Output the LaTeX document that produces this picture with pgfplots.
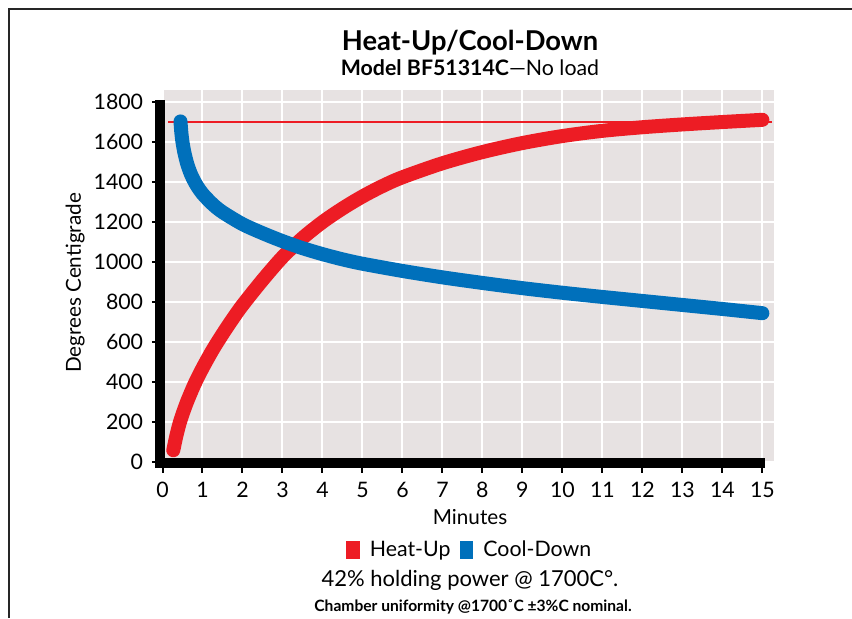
\documentclass[border=0pt]{standalone}
\usepackage{pgfplots}
\pgfplotsset{compat=1.18}
\usepackage{fontspec}
\setmainfont{Lato}
\definecolor{heatred}{HTML}{ED1C24}
\definecolor{coolblue}{HTML}{0070BB}
\definecolor{bggray}{HTML}{E7E2E2}
\begin{document}
\begin{tikzpicture}
\path[use as bounding box] (0,0) rectangle (639pt,-463.5pt);
\draw[line width=1.5pt, color=black!85] (6.75pt,-463.5pt) -- (6.75pt,-6.75pt) -- (639pt,-6.75pt);
\node[font=\fontsize{20.5}{24}\selectfont\bfseries] at (352.5pt,-32.25pt) {Heat-Up/Cool-Down};
\node[font=\fontsize{16}{19}\selectfont] at (352.5pt,-50.5pt) {\textbf{Model BF51314C}—No load};
\node[font=\fontsize{16.5}{19}\selectfont] at (352.5pt,-435pt) {42\% holding power @ 1700C°.};
\node[font=\fontsize{11.7}{14}\selectfont\bfseries] at (354.75pt,-455.25pt) {Chamber uniformity @1700˚C ±3\%C nominal.};
\begin{axis}[
  at={(121.875pt,-346.7pt)}, anchor=south west,
  scale only axis, width=458.6pt, height=279.2pt,
  xmin=0, xmax=15.29, ymin=0, ymax=1860,
  clip=false,
  axis line style={draw=none},
  axis background/.style={fill=bggray},
  grid=major, major grid style={white, line width=1.5pt},
  xtick={0,1,...,15}, ytick={0,200,...,1800},
  xtick pos=bottom, ytick pos=left,
  tick style={black, line width=1.5pt},
  tick align=outside, major tick length=8pt,
  /pgf/number format/1000 sep={},
  /pgf/number format/assume math mode=true,
  ticklabel style={font=\fontsize{16}{19}\selectfont},
  xticklabel style={yshift=-3.5pt},
  yticklabel style={xshift=-3pt},
  xlabel={Minutes}, ylabel={Degrees Centigrade},
  label style={font=\fontsize{15.5}{18}\selectfont},
  xlabel style={at={(rel axis cs:0.503,-0.147)}, anchor=center},
  ylabel style={at={(rel axis cs:-0.143,0.4816)}, anchor=center},
  legend style={at={(rel axis cs:0.503,-0.2356)}, anchor=center, draw=none, fill=none,
    legend columns=2, font=\fontsize{16}{19}\selectfont,
    /tikz/every even column/.append style={column sep=5pt}},
  legend image code/.code={\fill[draw=none] (0pt,-6.4pt) rectangle (10pt,6.4pt); \path (10.5pt,0pt);},
]
\draw[line width=7.5pt, line join=miter, black] (axis cs:-0.06,1810) -- (axis cs:-0.06,-4) -- (axis cs:15.06,-4);
\addplot[heatred, line width=1.2pt, forget plot] coordinates {(0.15,1700) (15.23,1700)};
\addplot[heatred, line width=10.5pt, line cap=round, line join=round, smooth, tension=0.5] coordinates {
(0.27,60) (0.35,135) (0.45,210) (0.6,295) (0.8,390) (1.0,470) (1.25,560) (1.5,640) (1.75,715) (2.0,785) (2.5,910) (3.0,1025) (3.5,1120) (4.0,1200) (4.5,1268) (5.0,1328) (5.5,1380) (6.0,1424) (7.0,1494) (8.0,1550) (9.0,1595) (10.0,1630) (11.0,1656) (12.0,1674) (13.0,1688) (14.0,1700) (15.0,1711)};
\addlegendentry{Heat-Up}
\addplot[coolblue, line width=10.5pt, line cap=round, line join=round, smooth, tension=0.5] coordinates {
(0.45,1703) (0.47,1650) (0.5,1600) (0.55,1545) (0.62,1490) (0.72,1435) (0.85,1385) (1.0,1342) (1.25,1290) (1.5,1250) (2.0,1190) (2.5,1145) (3.0,1105) (3.5,1070) (4.0,1040) (4.5,1014) (5.0,992) (6.0,956) (7.0,924) (8.0,896) (9.0,870) (10.0,847) (11.0,826) (12.0,806) (13.0,786) (14.0,766) (15.0,745)};
\addlegendentry{Cool-Down}
\end{axis}
\end{tikzpicture}
\end{document}
